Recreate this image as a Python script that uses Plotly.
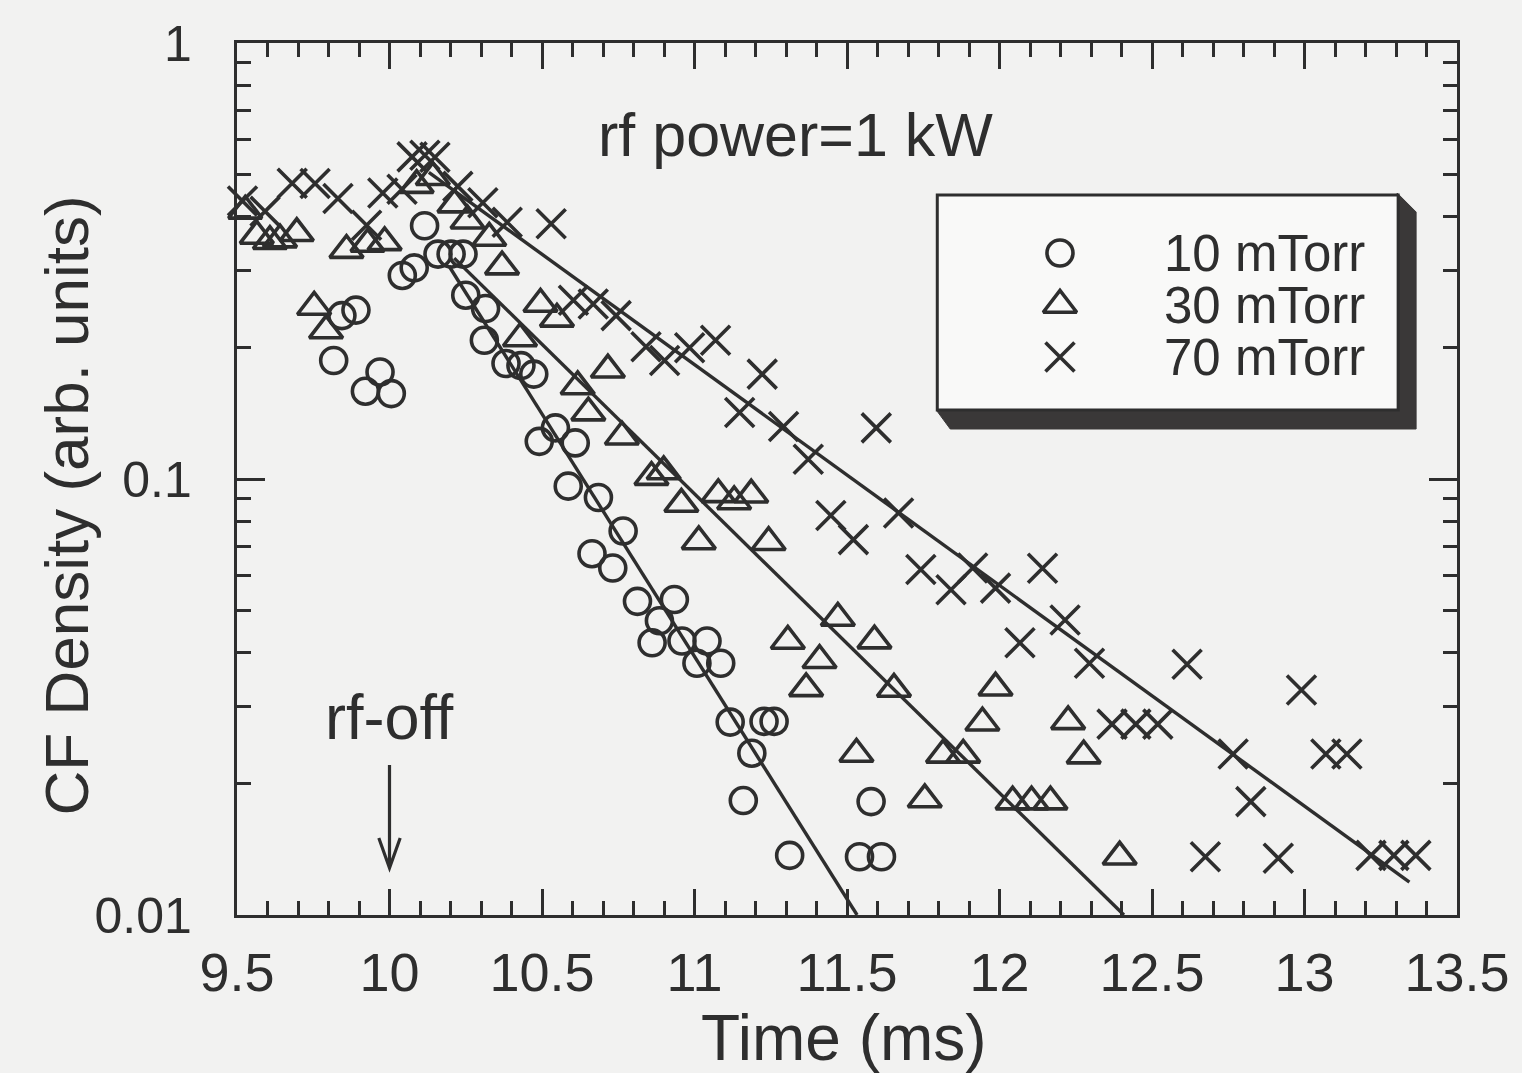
import plotly.graph_objects as go

# ---- measured CF density after rf turn-off (time in ms, density in arb. units) ----
t10 = [9.817, 9.844, 9.890, 9.921, 9.969, 10.006, 10.042, 10.081, 10.115, 10.159,
       10.202, 10.241, 10.250, 10.315, 10.311, 10.382, 10.431, 10.473, 10.491, 10.544,
       10.586, 10.609, 10.685, 10.664, 10.732, 10.766, 10.813, 10.934, 10.885, 10.861,
       10.959, 11.041, 11.008, 11.086, 11.117, 11.228, 11.261, 11.188, 11.160, 11.312,
       11.579, 11.541, 11.613]
v10 = [0.187, 0.237, 0.244, 0.159, 0.176, 0.157, 0.293, 0.305, 0.381, 0.328,
       0.328, 0.328, 0.264, 0.246, 0.208, 0.184, 0.182, 0.174, 0.122, 0.131,
       0.0963, 0.121, 0.0907, 0.0674, 0.0625, 0.076, 0.0524, 0.0529, 0.0473, 0.0421,
       0.0425, 0.0425, 0.0378, 0.0378, 0.0277, 0.0278, 0.0278, 0.0235, 0.0183, 0.0137,
       0.0182, 0.0136, 0.0136]

t30 = [9.527, 9.565, 9.608, 9.641, 9.696, 9.753, 9.792, 9.859, 9.928, 9.984,
       10.089, 10.142, 10.213, 10.256, 10.327, 10.369, 10.428, 10.495, 10.549, 10.617,
       10.652, 10.716, 10.762, 10.859, 10.899, 10.957, 11.014, 11.078, 11.130, 11.186,
       11.243, 11.306, 11.366, 11.410, 11.470, 11.531, 11.590, 11.654, 11.755, 11.815,
       11.881, 11.944, 11.987, 12.043, 12.105, 12.167, 12.225, 12.276, 12.394]
v30 = [0.412, 0.361, 0.351, 0.354, 0.366, 0.248, 0.219, 0.335, 0.346, 0.349,
       0.472, 0.492, 0.426, 0.391, 0.357, 0.307, 0.210, 0.252, 0.233, 0.163,
       0.142, 0.178, 0.125, 0.101, 0.104, 0.0876, 0.0719, 0.0922, 0.0888, 0.092,
       0.0716, 0.0425, 0.0331, 0.0384, 0.048, 0.0234, 0.0426, 0.033, 0.0184, 0.0233,
       0.0233, 0.0276, 0.0332, 0.0182, 0.0182, 0.0182, 0.0278, 0.0232, 0.0136]

t70 = [9.518, 9.592, 9.681, 9.756, 9.831, 9.925, 9.978, 10.041, 10.074, 10.116,
       10.149, 10.224, 10.306, 10.386, 10.530, 10.603, 10.668, 10.743, 10.841, 10.902,
       10.984, 11.069, 11.148, 11.222, 11.292, 11.373, 11.447, 11.521, 11.596, 11.669,
       11.742, 11.841, 11.912, 11.987, 12.067, 12.141, 12.215, 12.295, 12.369, 12.447,
       12.519, 12.615, 12.675, 12.766, 12.824, 12.914, 12.990, 13.070, 13.139, 13.218,
       13.293, 13.365]
v70 = [0.434, 0.411, 0.477, 0.476, 0.440, 0.382, 0.453, 0.462, 0.548, 0.553,
       0.547, 0.469, 0.430, 0.388, 0.385, 0.257, 0.252, 0.237, 0.201, 0.187,
       0.200, 0.208, 0.142, 0.174, 0.132, 0.111, 0.0825, 0.0726, 0.131, 0.0836,
       0.062, 0.0557, 0.0625, 0.0562, 0.0421, 0.0624, 0.0475, 0.0378, 0.0274, 0.0274,
       0.0274, 0.0376, 0.0136, 0.0234, 0.0182, 0.0135, 0.0328, 0.0234, 0.0234, 0.0137,
       0.0137, 0.0137]

# exponential decay fits (start / end of each line)
fit10_t = [10.195, 11.533]
fit10_v = [0.308, 0.010]
fit30_t = [10.212, 12.408]
fit30_v = [0.321, 0.010]
fit70_t = [10.129, 13.344]
fit70_v = [0.505, 0.0119]

series_names = ["10 mTorr", "30 mTorr", "70 mTorr"]
x_ticks = [9.5, 10, 10.5, 11, 11.5, 12, 12.5, 13, 13.5]
x_tick_text = ["9.5", "10", "10.5", "11", "11.5", "12", "12.5", "13", "13.5"]
y_ticks = [0.01, 0.1, 1]
y_tick_text = ["0.01", "0.1", "1"]
rf_off_time = 10.0

# ---- styling ----
INK = "#2e2e2e"
BG = "#f2f2f1"
FONT = "Liberation Sans, Arial, Helvetica, sans-serif"
W, H = 1522, 1073
ML, MR, MT, MB = 237, 62, 43, 158

def fx(px):
    """pixel column -> fraction of plot width"""
    return (px - ML) / (W - ML - MR)

def fy(py):
    """pixel row -> fraction of plot height (from bottom)"""
    return (H - MB - py) / (H - MT - MB)

fig = go.Figure()

marker_line = dict(color=INK, width=3.6)
sym = {
    "10 mTorr": dict(symbol="circle-open", size=26, color=INK, line=marker_line),
    "30 mTorr": dict(symbol="triangle-up-open", size=29, color=INK, line=marker_line),
    "70 mTorr": dict(symbol="x-thin-open", size=29, color=INK, line=marker_line),
}

for name, tt, vv in zip(series_names, [t10, t30, t70], [v10, v30, v70]):
    fig.add_trace(go.Scatter(x=tt, y=vv, mode="markers", name=name,
                             marker=sym[name], showlegend=False, cliponaxis=False))

for ft, fv in [(fit10_t, fit10_v), (fit30_t, fit30_v), (fit70_t, fit70_v)]:
    fig.add_trace(go.Scatter(x=ft, y=fv, mode="lines", line=dict(color=INK, width=3.4),
                             showlegend=False, hoverinfo="skip"))

# legend symbols, drawn on an overlay of unit axes
leg_x = 1062
leg_rows = [253, 305, 357]
for name, row in zip(series_names, leg_rows):
    fig.add_trace(go.Scatter(x=[fx(leg_x)], y=[fy(row)], mode="markers",
                             marker=sym[name], xaxis="x2", yaxis="y2",
                             showlegend=False, hoverinfo="skip"))

axis_common = dict(
    showline=True, linecolor=INK, linewidth=3.4, mirror="ticks",
    ticks="inside", tickcolor=INK, tickwidth=3, showgrid=False, zeroline=False,
)

fig.update_layout(
    width=W, height=H,
    margin=dict(l=ML, r=MR, t=MT, b=MB),
    paper_bgcolor=BG, plot_bgcolor=BG,
    font=dict(family=FONT, color=INK),
    showlegend=False,
    xaxis=dict(range=[9.5, 13.5], tickvals=x_ticks, ticktext=x_tick_text, ticklen=26,
               ticklabelstandoff=8, tickfont=dict(family=FONT, size=54, color=INK),
               minor=dict(dtick=0.1, ticks="inside", ticklen=14, tickwidth=3, tickcolor=INK),
               **axis_common),
    yaxis=dict(type="log", range=[-2, 0], tickvals=y_ticks, ticktext=y_tick_text, ticklen=28,
               ticklabelstandoff=32, tickfont=dict(family=FONT, size=50, color=INK),
               minor=dict(dtick="D1", ticks="inside", ticklen=14, tickwidth=3, tickcolor=INK),
               **axis_common),
    xaxis2=dict(range=[0, 1], overlaying="x", visible=False, fixedrange=True),
    yaxis2=dict(range=[0, 1], overlaying="y", visible=False, fixedrange=True),
)

# legend box with a bevelled drop shadow
shadow_path = "M {} {} L {} {} L {} {} L {} {} L {} {} L {} {} Z".format(
    fx(1400), fy(193), fx(1419), fy(212), fx(1419), fy(429),
    fx(952), fy(429), fx(938), fy(410), fx(1400), fy(410))
fig.add_shape(type="path", path=shadow_path, xref="paper", yref="paper",
              fillcolor="#3a3838", line=dict(color="#3a3838", width=1), layer="below")
fig.add_shape(type="rect", xref="paper", yref="paper",
              x0=fx(939), x1=fx(1401), y0=fy(410), y1=fy(195),
              fillcolor="#f9f9f8", line=dict(color=INK, width=3), layer="below")

for name, row in zip(series_names, leg_rows):
    fig.add_annotation(x=fx(1370), y=fy(row), xref="paper", yref="paper",
                       text=name, showarrow=False, xanchor="right", yanchor="middle",
                       font=dict(family=FONT, size=51, color=INK))

fig.add_annotation(x=fx(797), y=fy(135), xref="paper", yref="paper",
                   text="rf power=1 kW", showarrow=False, xanchor="center", yanchor="middle",
                   font=dict(family=FONT, size=61, color=INK))

# rf-off label and downward arrow at the switch-off time
fig.add_annotation(x=rf_off_time, y=-1.63, xref="x", yref="y",
                   text="rf-off", showarrow=False, xanchor="center", yanchor="bottom",
                   font=dict(family=FONT, size=63, color=INK))
arrow_half = 0.035
arrow_path = "M {x} {y0} L {x} {y1} M {xl} {yh} L {x} {y1} L {xr} {yh}".format(
    x=rf_off_time, y0=fy(765), y1=fy(868), yh=fy(838),
    xl=rf_off_time - arrow_half, xr=rf_off_time + arrow_half)
fig.add_shape(type="path", path=arrow_path, xref="x", yref="paper",
              line=dict(color=INK, width=3.2))

# axis titles
fig.add_annotation(x=fx(845), y=fy(1038), xref="paper", yref="paper",
                   text="Time (ms)", showarrow=False, xanchor="center", yanchor="middle",
                   font=dict(family=FONT, size=64, color=INK))
fig.add_annotation(x=fx(66), y=fy(505), xref="paper", yref="paper",
                   text="CF Density (arb. units)", showarrow=False, textangle=-90,
                   xanchor="center", yanchor="middle",
                   font=dict(family=FONT, size=62, color=INK))

fig.write_html("out.html")
